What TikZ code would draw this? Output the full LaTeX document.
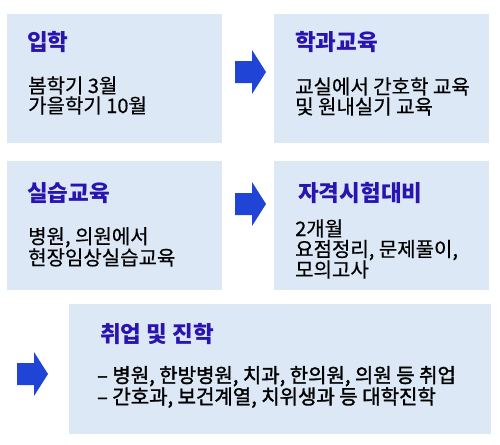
\documentclass[tikz,border=0pt]{standalone}
\usepackage{fontspec}
\setmainfont{Noto Sans CJK KR}
\newfontfamily\bodyfont{Noto Sans CJK KR}[FakeBold=0.5]
\newfontfamily\heavyfont{Noto Sans CJK KR}[FakeBold=1.6]
\usetikzlibrary{positioning, calc}
\definecolor{boxc}{RGB}{220,232,245}
\definecolor{titlec}{RGB}{42,20,176}
\definecolor{arrowc}{RGB}{31,68,214}

\begin{document}
\begin{tikzpicture}[x=1pt, y=-1pt,
  % light blue stage panels
  stagebox/.style={fill=boxc, draw=none, minimum width=215pt, minimum height=129pt, inner sep=0pt, anchor=north west},
  stagetitle/.style={anchor=base west, inner sep=0pt, text=titlec, font=\fontsize{22.5pt}{26pt}\selectfont\bfseries},
  % body text: base = baseline of the last line
  stagetext/.style={anchor=base west, inner sep=0pt, align=left, text=black, font=\bodyfont\fontsize{20pt}{20pt}\selectfont},
  % fat blue arrow between stages
  blockarrow/.pic={\fill[arrowc] (0,-11) -- (17,-11) -- (17,-22) -- (31,0) -- (17,22) -- (17,11) -- (0,11) -- cycle;},
]
\useasboundingbox (0,0) rectangle (500,444);

%% ── row 1 ─────────────────────────────────────────────
\node[stagebox] (b1) at (7,14) {};
\node[stagetitle] (t1) at ($(b1.north west)+(20,37)$) {입학};
\node[stagetext] (s1) at ($(b1.north west)+(21,99)$) {봄학기 3월\\가을학기 10월};

\node[stagebox] (b2) at (274,14) {};
\node[stagetitle] (t2) at ($(b2.north west)+(21,37)$) {학과교육};
\node[stagetext] (s2) at ($(b2.north west)+(21,100)$) {교실에서 간호학 교육\\및 원내실기 교육};

\pic at (235,72) {blockarrow};

%% ── row 2 ─────────────────────────────────────────────
\node[stagebox] (b3) at (7,161) {};
\node[stagetitle] (t3) at ($(b3.north west)+(20,40)$) {실습교육};
\node[stagetext] (s3) at ($(b3.north west)+(21,104)$) {병원, 의원에서\\현장임상실습교육};

\node[stagebox] (b4) at (274,161) {};
\node[stagetitle] (t4) at ($(b4.north west)+(24,40)$) {자격시험대비};
\node[stagetext, font=\bodyfont\fontsize{20pt}{20.5pt}\selectfont] (s4) at ($(b4.north west)+(21,116)$) {2개월\\요점정리, 문제풀이,\\모의고사};

\pic at (235,204) {blockarrow};

%% ── row 3 ─────────────────────────────────────────────
\node[stagebox, minimum width=422pt, minimum height=130pt] (b5) at (69,304) {};
\node[stagetitle] (t5) at ($(b5.north west)+(31,38)$) {취업 및 진학};
\node[stagetext, font=\heavyfont\fontsize{20pt}{19.5pt}\selectfont] (s5) at ($(b5.north west)+(28,100)$) {– 병원, 한방병원, 치과, 한의원, 의원 등 취업\\– 간호과, 보건계열, 치위생과 등 대학진학};

\pic at (17,374) {blockarrow};

\end{tikzpicture}
\end{document}
